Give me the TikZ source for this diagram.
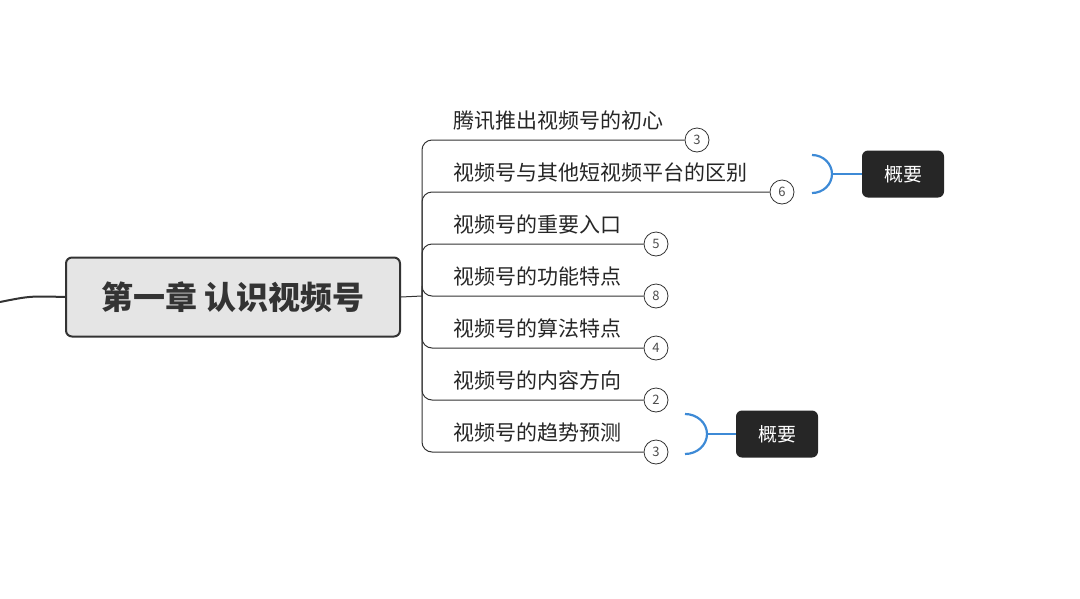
\documentclass[tikz,border=0pt]{standalone}
\usepackage{fontspec}
\setmainfont{Noto Sans CJK SC}
\usetikzlibrary{positioning}
\definecolor{bracecol}{HTML}{3D8AD6}
\tikzset{
  mainnode/.style = {shape=rectangle, rounded corners=6pt, draw=black!80, line width=2pt,
                     fill=black!10, minimum width=334pt, minimum height=79pt,
                     font=\fontsize{32}{36}\selectfont\bfseries, text=black!80},
  topic/.style    = {anchor=base west, font=\fontsize{21}{24}\selectfont, text=black!85, inner sep=0pt},
  count/.style    = {circle, draw=black!80, fill=white, line width=0.8pt, minimum size=24pt,
                     inner sep=0pt, font=\fontsize{13}{15}\selectfont, text=black!70},
  summary/.style  = {rectangle, rounded corners=6pt, fill=black!85, text=white,
                     minimum width=82pt, minimum height=47pt, font=\fontsize{19}{22}\selectfont},
  brace/.style    = {draw=bracecol, line width=2.2pt},
  link/.style     = {draw=black!80, line width=1pt}
}
\begin{document}
\begin{tikzpicture}[x=1pt,y=-1pt]
  \useasboundingbox (0,0) rectangle (1080,598);
  \node [mainnode] (root) at (233,297) {第一章 认识视频号};
  \coordinate (in) at (0,302);
  \draw [link, line width=2pt] (in) .. controls (30,296) .. (root.west);
  \coordinate (trunk) at (422,296);
  \draw [link] (root.east) -- (trunk);
  % topics with counts
  \foreach \name/\txt/\y/\cx/\n in {t1/腾讯推出视频号的初心/140/697/3,
                                    t2/视频号与其他短视频平台的区别/192/782/6,
                                    t3/视频号的重要入口/244/656/5,
                                    t4/视频号的功能特点/296/656/8,
                                    t5/视频号的算法特点/348/656/4,
                                    t6/视频号的内容方向/400/656/2,
                                    t7/视频号的趋势预测/452/656/3} {
    \node [count] (c\name) at (\cx,\y) {\n};
    \node [topic] (\name) at (453,\y-12) {\txt};
    \draw [link, rounded corners=10pt] (trunk) |- (c\name.west);
  }
  % summaries
  \node [summary] (s1) at (903,174) {概要};
  \node [summary] (s2) at (777,434) {概要};
  \draw [brace] (812,155) arc (-90:0:20 and 19) coordinate (m1) arc (0:90:20 and 19);
  \draw [brace] (m1) -- (s1.west);
  \draw [brace] (685,414) arc (-90:0:22 and 20) coordinate (m2) arc (0:90:22 and 20);
  \draw [brace] (m2) -- (s2.west);
\end{tikzpicture}
\end{document}
